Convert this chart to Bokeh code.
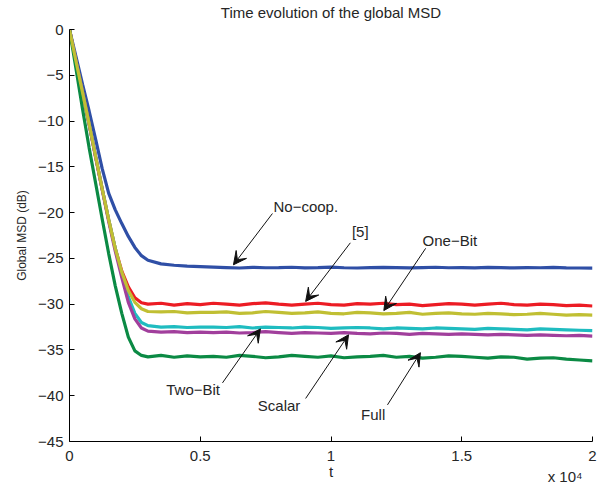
from bokeh.plotting import figure
from bokeh.models import Range1d, FixedTicker, Label, Arrow, VeeHead, LinearAxis
from bokeh.embed import file_html
from bokeh.resources import INLINE

# ---------------- data ----------------
T = [0, 250, 500, 750, 1000, 1250, 1500, 1750, 2000, 2250, 2500, 2750, 3000,
     3500, 4000, 4500, 5000,
     5500, 6000, 6500, 7000, 7500, 8000, 8500, 9000, 9500, 10000,
     10500, 11000, 11500, 12000, 12500, 13000, 13500, 14000, 14500, 15000,
     15500, 16000, 16500, 17000, 17500, 18000, 18500, 19000, 19500, 20000]

NO_COOP = [0, -3.0, -6.0, -8.9, -12.0, -15.2, -17.9, -19.7, -21.2, -22.6, -23.8, -24.7, -25.2,
           -25.6, -25.75, -25.85, -25.9,
           -25.95, -26.0, -26.05, -25.98, -26.02, -26.0, -25.97, -26.03, -26.0, -25.96,
           -26.02, -26.05, -26.0, -25.98, -26.01, -26.04, -26.0, -25.97, -26.02, -26.0,
           -26.03, -25.99, -26.01, -26.04, -26.0, -26.02, -25.98, -26.03, -26.05, -26.06]

REF5 = [0, -3.5, -6.9, -10.3, -13.9, -17.4, -20.8, -23.9, -26.4, -28.1, -29.3, -29.85, -30.0,
        -29.9, -30.1, -29.95, -30.05,
        -29.9, -30.0, -30.1, -29.95, -29.85, -30.0, -30.1, -30.0, -29.9, -30.05,
        -30.1, -29.95, -30.0, -29.9, -30.05, -30.0, -30.15, -30.05, -29.95, -30.0,
        -30.1, -30.0, -29.9, -30.05, -30.1, -30.0, -30.05, -30.15, -30.1, -30.2]

ONE_BIT = [0, -3.5, -6.9, -10.3, -13.9, -17.4, -20.8, -23.9, -26.5, -28.5, -29.8, -30.5, -30.8,
           -30.85, -30.8, -30.95, -30.9,
           -30.9, -30.85, -31.0, -30.95, -30.8, -30.9, -31.0, -30.95, -30.85, -31.0,
           -31.05, -30.9, -30.95, -31.05, -31.0, -30.9, -31.1, -31.0, -30.95, -31.05,
           -31.1, -31.0, -31.05, -31.15, -31.1, -31.0, -31.1, -31.2, -31.15, -31.2]

TWO_BIT = [0, -3.5, -6.9, -10.3, -13.9, -17.4, -20.8, -23.9, -26.7, -29.2, -31.0, -32.0, -32.35,
           -32.5, -32.45, -32.55, -32.5,
           -32.5, -32.55, -32.45, -32.6, -32.5, -32.55, -32.6, -32.5, -32.55, -32.65,
           -32.6, -32.55, -32.6, -32.7, -32.6, -32.65, -32.7, -32.6, -32.65, -32.7,
           -32.75, -32.65, -32.7, -32.75, -32.8, -32.7, -32.75, -32.8, -32.85, -32.9]

SCALAR = [0, -3.5, -6.9, -10.4, -14.0, -17.5, -21.0, -24.2, -27.1, -29.8, -31.6, -32.6, -32.95,
          -33.05, -33.0, -33.1, -33.05,
          -33.1, -33.05, -33.15, -33.1, -33.0, -33.1, -33.2, -33.1, -33.15, -33.2,
          -33.1, -33.2, -33.25, -33.15, -33.2, -33.3, -33.2, -33.25, -33.3, -33.25,
          -33.3, -33.35, -33.3, -33.35, -33.4, -33.35, -33.4, -33.45, -33.4, -33.5]

FULL = [0, -4.3, -8.7, -12.9, -16.8, -20.7, -24.5, -28.0, -31.0, -33.6, -35.1, -35.6, -35.75,
        -35.6, -35.8, -35.65, -35.75,
        -35.7, -35.8, -35.6, -35.7, -35.85, -35.75, -35.6, -35.7, -35.8, -35.65,
        -35.85, -35.75, -35.7, -35.6, -35.8, -35.7, -35.9, -35.8, -35.65, -35.7,
        -35.8, -35.9, -35.75, -35.8, -36.0, -35.9, -35.85, -36.0, -36.1, -36.2]

X_TICKS = [0, 5000, 10000, 15000, 20000]
X_TICK_LABELS = ["0", "0.5", "1", "1.5", "2"]
Y_TICKS = [0, -5, -10, -15, -20, -25, -30, -35, -40, -45]
Y_TICK_LABELS = ["0", "\u22125", "\u221210", "\u221215", "\u221220", "\u221225",
                 "\u221230", "\u221235", "\u221240", "\u221245"]

TITLE = "Time evolution of the global MSD"
X_LABEL = "t"
X_EXP = "x 10\u2074"
Y_LABEL = "Global MSD (dB)"
ANN_TEXT = ["No\u2212coop.", "[5]", "One\u2212Bit", "Two\u2212Bit", "Scalar", "Full"]

# ---------------- annotation / text layout (data coords) ----------------
ANN_TEXT_POS = [(7800, -19.3), (10800, -22.1), (13500, -23.0),
                (3700, -39.3), (7200, -41.1), (11150, -42.1)]
ANN_TAIL = [(7760, -20.1), (10740, -23.3), (13620, -23.9),
            (5850, -38.6), (9030, -40.3), (12160, -41.0)]
ANN_TIP = [(6270, -25.7), (9030, -29.7), (12020, -30.7),
           (7300, -32.7), (10670, -33.35), (13420, -35.3)]
TITLE_AT = 10000
X_LABEL_AT = 10000
X_EXP_AT = 18950
Y_LABEL_SPAN = (-40.8, 0)

FONT = "Liberation Sans"
TXT = "#262626"

p = figure(width=598, height=487, output_backend="svg", toolbar_location=None,
           x_range=Range1d(0, 20000), y_range=Range1d(-45, 0),
           min_border_left=69, min_border_right=6, min_border_top=29, min_border_bottom=46)
p.outline_line_color = None
p.xgrid.visible = False
p.ygrid.visible = False
p.background_fill_color = "white"
p.border_fill_color = "white"

for ax in (p.xaxis[0], p.yaxis[0]):
    ax.major_tick_in = 5
    ax.major_tick_out = 0
    ax.minor_tick_line_color = None
    ax.axis_line_color = "#000000"
    ax.major_tick_line_color = "#000000"
    ax.major_label_text_font = FONT
    ax.major_label_text_font_size = "15px"
    ax.major_label_text_color = TXT

p.xaxis.ticker = FixedTicker(ticks=X_TICKS)
p.xaxis.major_label_overrides = dict(zip(X_TICKS, X_TICK_LABELS))
p.xaxis.major_label_standoff = 9

p.yaxis.ticker = FixedTicker(ticks=Y_TICKS)
p.yaxis.major_label_overrides = dict(zip(Y_TICKS, Y_TICK_LABELS))
p.yaxis.major_label_standoff = 6


def text_axis(side, tick, label, standoff):
    ax = LinearAxis(ticker=FixedTicker(ticks=[tick]), major_label_overrides={tick: label},
                    axis_line_color=None, major_tick_line_color=None,
                    major_tick_in=0, major_tick_out=0,
                    minor_tick_line_color=None, minor_tick_in=0, minor_tick_out=0,
                    major_label_standoff=standoff,
                    major_label_text_font=FONT, major_label_text_font_size="15px",
                    major_label_text_color=TXT)
    p.add_layout(ax, side)


text_axis("above", TITLE_AT, TITLE, 9)
text_axis("below", X_LABEL_AT, X_LABEL, -1)
text_axis("below", X_EXP_AT, X_EXP, -15)

# y label: a bare axis whose extent is limited so that its label is centred where the reference has it
ylab_axis = LinearAxis(ticker=FixedTicker(ticks=[]), bounds=Y_LABEL_SPAN,
                       axis_line_color=None, major_tick_line_color=None,
                       major_tick_in=0, major_tick_out=0,
                       minor_tick_line_color=None, minor_tick_in=0, minor_tick_out=0,
                       major_label_standoff=0, major_label_text_font_size="1px",
                       axis_label=Y_LABEL, axis_label_standoff=7,
                       axis_label_text_font=FONT, axis_label_text_font_size="12px",
                       axis_label_text_font_style="normal", axis_label_text_color=TXT)
p.add_layout(ylab_axis, "left")

series = [(NO_COOP, "#2f4fa6"), (REF5, "#ec1c24"), (TWO_BIT, "#1fbcc0"),
          (SCALAR, "#a13f9c"), (FULL, "#0b8a44"), (ONE_BIT, "#c0bf33")]
for ys, col in series:
    p.line(T, ys, line_color=col, line_width=3.2)

for txt, (tx, ty), (ax0, ay0), (bx, by) in zip(ANN_TEXT, ANN_TEXT_POS, ANN_TAIL, ANN_TIP):
    p.add_layout(Arrow(x_start=ax0, y_start=ay0, x_end=bx, y_end=by,
                       line_color="#111111", line_width=1,
                       end=VeeHead(size=13, fill_color="#111111", line_color="#111111")))
    p.add_layout(Label(x=tx, y=ty, text=txt, text_font=FONT, text_font_size="15px",
                       text_color=TXT, text_align="left", text_baseline="middle"))

open("out.html", "w").write(file_html(p, INLINE))
